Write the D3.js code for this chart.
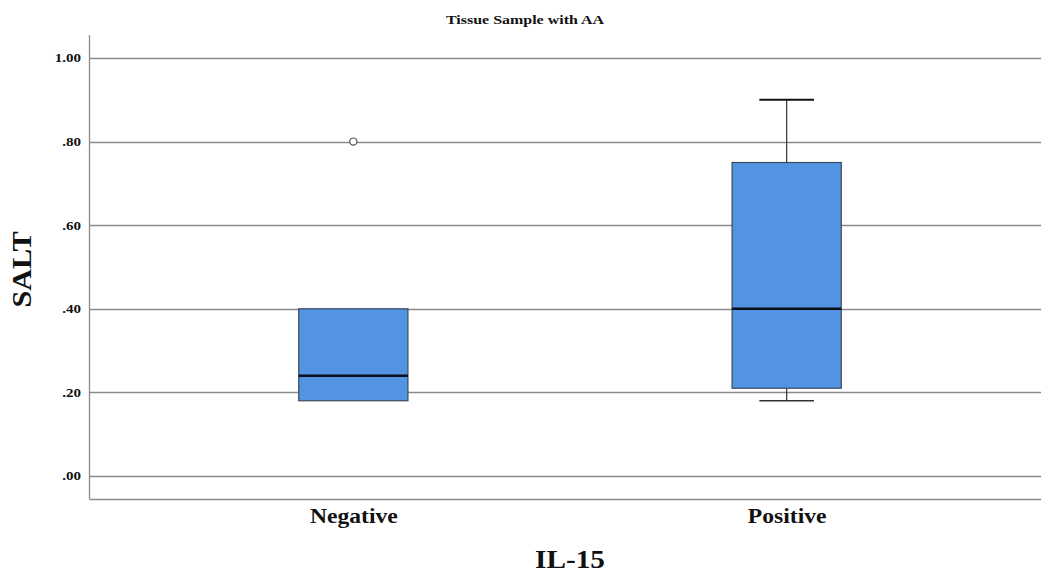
<!DOCTYPE html>
<html>
<head>
<meta charset="utf-8">
<script src="https://cdn.jsdelivr.net/npm/d3@7"></script>
<style>
  body { margin: 0; background: #fff; }
  svg text { font-family: "Liberation Serif", "DejaVu Serif", serif; font-weight: bold; fill: #111; }
</style>
</head>
<body>
<div id="chart"></div>
<script>
// Boxplot: SALT by IL-15 status (tissue sample with AA)

const categories = ["Negative", "Positive"];
const boxStats = [
  { group: "Negative", min: 0.18, q1: 0.18, median: 0.24, q3: 0.40, max: 0.40 },
  { group: "Positive", min: 0.18, q1: 0.21, median: 0.40, q3: 0.75, max: 0.90 },
];
const outliers = [
  { group: "Negative", value: 0.80 },
];
const yTicks = [0, 0.2, 0.4, 0.6, 0.8, 1.0];

const W = 1041, H = 572;
const m = { top: 35, right: 0, bottom: 73, left: 89 };
const iw = 962;
const ih = H - m.top - m.bottom;

// the source render uses a wide, heavy serif; widen glyphs to match
function stretch(sel, k) {
  sel.each(function () {
    const len = this.getComputedTextLength();
    d3.select(this)
      .attr("textLength", len * k)
      .attr("lengthAdjust", "spacingAndGlyphs");
  });
}

const svg = d3.select("#chart")
  .append("svg")
    .attr("width", W)
    .attr("height", H);

const g = svg.append("g")
  .attr("transform", `translate(${m.left},${m.top})`);

const yScale = d3.scaleLinear()
  .domain([-0.055, 1.055])
  .range([ih, 0]);

const xScale = d3.scalePoint()
  .domain(categories)
  .range([0, iw])
  .padding(0.61);

const step = xScale.step();
const boxW = step * 0.252;
const capW = boxW / 2;

// grid lines
g.selectAll(".grid-h")
  .data(yTicks)
  .join("line")
    .attr("x1", 0)
    .attr("x2", iw)
    .attr("y1", d => Math.round(yScale(d)) + 0.5)
    .attr("y2", d => Math.round(yScale(d)) + 0.5)
    .attr("stroke", "#8a8a8a")
    .attr("stroke-width", 1.3);

// y axis
const yAxisG = g.append("g")
  .call(d3.axisLeft(yScale)
    .tickValues(yTicks)
    .tickSize(0)
    .tickPadding(8)
    .tickFormat(d => d === 1 ? "1.00" : d3.format(".2f")(d).replace(/^0/, "")));
yAxisG.select(".domain").remove();
yAxisG.selectAll("text")
  .attr("font-size", "12px")
  .attr("font-family", "Liberation Serif, serif")
  .attr("font-weight", "bold")
  .attr("fill", "#222")
  .call(stretch, 1.25);

g.append("line")
  .attr("x1", 0.5).attr("x2", 0.5)
  .attr("y1", 0).attr("y2", ih)
  .attr("stroke", "#8a8a8a")
  .attr("stroke-width", 1.3);

// x axis
const xAxisG = g.append("g")
  .attr("transform", `translate(0,${ih})`)
  .call(d3.axisBottom(xScale).tickSize(0).tickPadding(10));
xAxisG.select(".domain")
  .attr("stroke", "#8a8a8a")
  .attr("stroke-width", 1.3);
xAxisG.selectAll("text")
  .attr("font-size", "20px")
  .attr("font-family", "Liberation Serif, serif")
  .attr("font-weight", "bold")
  .attr("fill", "#222")
  .call(stretch, 1.18);

// whiskers
const boxes = g.selectAll(".box")
  .data(boxStats)
  .join("g")
    .attr("class", "box")
    .attr("transform", d => `translate(${xScale(d.group)},0)`);

boxes.filter(d => d.max > d.q3).append("line")
  .attr("x1", 0).attr("x2", 0)
  .attr("y1", d => yScale(d.q3)).attr("y2", d => yScale(d.max))
  .attr("stroke", "#333").attr("stroke-width", 1.2);
boxes.filter(d => d.max > d.q3).append("line")
  .attr("x1", -capW / 2).attr("x2", capW / 2)
  .attr("y1", d => yScale(d.max)).attr("y2", d => yScale(d.max))
  .attr("stroke", "#111").attr("stroke-width", 2);

boxes.filter(d => d.min < d.q1).append("line")
  .attr("x1", 0).attr("x2", 0)
  .attr("y1", d => yScale(d.q1)).attr("y2", d => yScale(d.min))
  .attr("stroke", "#333").attr("stroke-width", 1.2);
boxes.filter(d => d.min < d.q1).append("line")
  .attr("x1", -capW / 2).attr("x2", capW / 2)
  .attr("y1", d => yScale(d.min)).attr("y2", d => yScale(d.min))
  .attr("stroke", "#333").attr("stroke-width", 1.5);

// box body
boxes.append("rect")
  .attr("x", -boxW / 2)
  .attr("width", boxW)
  .attr("y", d => yScale(d.q3))
  .attr("height", d => yScale(d.q1) - yScale(d.q3))
  .attr("fill", "#5294e2")
  .attr("stroke", "#3a4a5c")
  .attr("stroke-width", 1.2);

// median
boxes.append("line")
  .attr("x1", -boxW / 2).attr("x2", boxW / 2)
  .attr("y1", d => yScale(d.median)).attr("y2", d => yScale(d.median))
  .attr("stroke", "#0a0f1a")
  .attr("stroke-width", 2.5);

// outliers
g.selectAll(".outlier")
  .data(outliers)
  .join("circle")
    .attr("class", "outlier")
    .attr("cx", d => xScale(d.group))
    .attr("cy", d => yScale(d.value))
    .attr("r", 3.6)
    .attr("fill", "#fff")
    .attr("stroke", "#555")
    .attr("stroke-width", 1.2);

// titles
svg.append("text")
  .attr("x", 525)
  .attr("y", 24)
  .attr("text-anchor", "middle")
  .attr("font-size", "12px")
  .attr("fill", "#222")
  .text("Tissue Sample with AA")
  .call(stretch, 1.33);

svg.append("text")
  .attr("transform", `translate(31,${(230 + 309) / 2}) rotate(-90)`)
  .attr("text-anchor", "middle")
  .attr("font-size", "28px")
  .attr("fill", "#222")
  .text("SALT")
  .call(stretch, 1.08);

svg.append("text")
  .attr("x", 570)
  .attr("y", 568)
  .attr("text-anchor", "middle")
  .attr("font-size", "25px")
  .attr("fill", "#222")
  .text("IL-15")
  .call(stretch, 1.17);
</script>
</body>
</html>
